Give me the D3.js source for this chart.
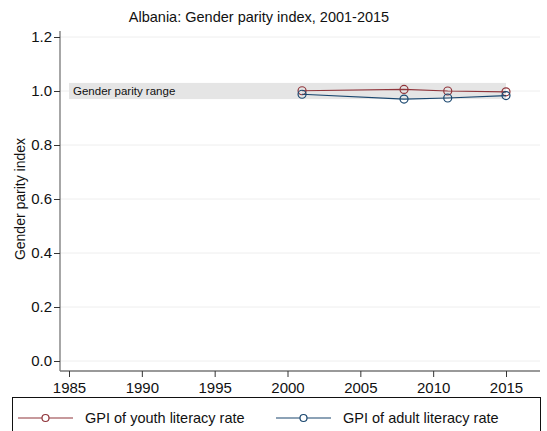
<!DOCTYPE html>
<html>
<head>
<meta charset="utf-8">
<script src="https://cdn.jsdelivr.net/npm/d3@7"></script>
<style>
  body { margin: 0; background: #fff; }
  svg text { font-family: "Liberation Sans", Arial, sans-serif; }
</style>
</head>
<body>
<div id="chart"></div>
<script>
// data
let years = [2001, 2008, 2011, 2015];
let youthGPI = [1.001, 1.006, 1.000, 0.997];
let adultGPI = [0.988, 0.970, 0.974, 0.983];
let xTicks = [1985, 1990, 1995, 2000, 2005, 2010, 2015];
let yTicks = [0.0, 0.2, 0.4, 0.6, 0.8, 1.0, 1.2];
let parityRange = [0.97, 1.03];

let width = 547;
let height = 431;
let red = "#90353b";
let blue = "#1a476f";

let svg = d3.select("#chart")
  .append("svg")
  .attr("width", width)
  .attr("height", height);

let xScale = d3.scaleLinear().domain([1985, 2015]).range([69, 506]);
let yScale = d3.scaleLinear().domain([0, 1.2]).range([361, 37]);

// gridlines
svg.append("g")
  .selectAll("line")
  .data(yTicks)
  .enter()
  .append("line")
  .attr("x1", 60)
  .attr("x2", 540)
  .attr("y1", d => yScale(d))
  .attr("y2", d => yScale(d))
  .attr("stroke", "#eeeeee")
  .attr("stroke-width", 1);

// parity band
svg.append("rect")
  .attr("x", xScale(1985))
  .attr("width", xScale(2015) - xScale(1985))
  .attr("y", yScale(parityRange[1]))
  .attr("height", yScale(parityRange[0]) - yScale(parityRange[1]))
  .attr("fill", "#e5e5e5");

svg.append("text")
  .attr("x", xScale(1985) + 4)
  .attr("y", yScale(1.0) + 4)
  .attr("font-size", 11.5)
  .attr("fill", "#111")
  .text("Gender parity range");

// axes
let yAxis = d3.axisLeft(yScale).tickValues(yTicks).tickFormat(d3.format(".1f")).tickSize(6).tickPadding(2);
let xAxis = d3.axisBottom(xScale).tickValues(xTicks).tickFormat(d3.format("d")).tickSize(6).tickPadding(5);

let gy = svg.append("g")
  .attr("transform", "translate(60,0)")
  .call(yAxis);
gy.select(".domain").attr("d", "M0,31V371").attr("stroke", "#777").attr("stroke-width", 1.3);

let gx = svg.append("g")
  .attr("transform", "translate(0,371)")
  .call(xAxis);
gx.select(".domain").attr("d", "M60,0H540").attr("stroke", "#777").attr("stroke-width", 1.3);

svg.selectAll(".tick line").attr("stroke", "#333");
svg.selectAll(".tick text").attr("fill", "#111").attr("font-size", 15);

// series
function drawSeries(vals, color) {
  let line = d3.line()
    .x((d, i) => xScale(years[i]))
    .y(d => yScale(d));
  svg.append("path")
    .datum(vals)
    .attr("d", line)
    .attr("fill", "none")
    .attr("stroke", color)
    .attr("stroke-width", 1.2);
  svg.append("g")
    .selectAll("circle")
    .data(vals)
    .enter()
    .append("circle")
    .attr("cx", (d, i) => xScale(years[i]))
    .attr("cy", d => yScale(d))
    .attr("r", 4)
    .attr("fill", "none")
    .attr("stroke", color)
    .attr("stroke-width", 1.2);
}
drawSeries(youthGPI, red);
drawSeries(adultGPI, blue);

// title and label
svg.append("text")
  .attr("x", 259)
  .attr("y", 22)
  .attr("text-anchor", "middle")
  .attr("font-size", 14.5)
  .attr("fill", "#111")
  .text("Albania: Gender parity index, 2001-2015");

svg.append("text")
  .attr("transform", "translate(25," + yScale(0.6) + ")rotate(-90)")
  .attr("text-anchor", "middle")
  .attr("font-size", 14)
  .attr("fill", "#111")
  .text("Gender parity index");

// legend
svg.append("rect")
  .attr("x", 12.5)
  .attr("y", 397.5)
  .attr("width", 528)
  .attr("height", 40)
  .attr("fill", "#fff")
  .attr("stroke", "#111")
  .attr("stroke-width", 1);

let legendItems = [
  { label: "GPI of youth literacy rate", color: red, x: 18 },
  { label: "GPI of adult literacy rate", color: blue, x: 276 }
];
legendItems.forEach(function (d) {
  let g = svg.append("g").attr("transform", "translate(" + d.x + ",418)");
  g.append("line").attr("x1", 0).attr("x2", 55).attr("y1", 0).attr("y2", 0)
    .attr("stroke", d.color).attr("stroke-width", 1.2);
  g.append("circle").attr("cx", 27.5).attr("cy", 0).attr("r", 3.5)
    .attr("fill", "#fff").attr("stroke", d.color).attr("stroke-width", 1.2);
  g.append("text").attr("x", 67).attr("y", 5).attr("font-size", 14.5).attr("fill", "#111")
    .text(d.label);
});
</script>
</body>
</html>
